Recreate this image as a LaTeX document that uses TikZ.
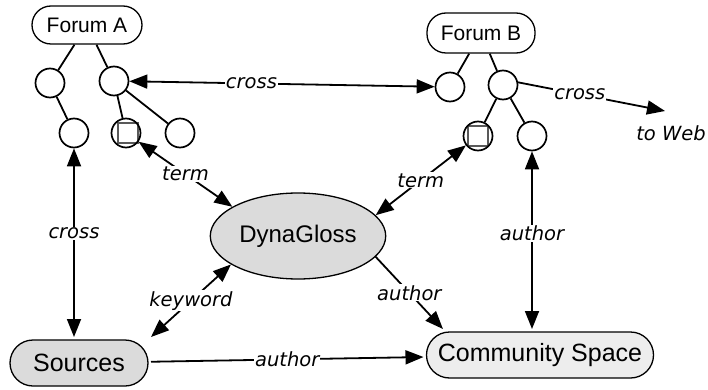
\documentclass[tikz,border=0pt]{standalone}
\usepackage{fontspec}
\setsansfont{Liberation Sans}
\newfontfamily\lblfont{DejaVu Sans}
\usetikzlibrary{arrows.meta,shapes.geometric}

\begin{document}
\begin{tikzpicture}[x=1pt, y=-1pt, >={Triangle[length=18pt,width=14pt]},
          leaf/.style={draw, circle, line width=1.7pt, minimum size=29pt, inner sep=0pt},
          forum/.style={draw, rounded corners=19pt, line width=1.3pt, inner sep=0pt, font=\sffamily\fontsize{21}{21}\selectfont},
          place/.style={draw, rounded corners=23pt, line width=1.3pt, inner sep=0pt, outer sep=3pt, minimum height=46pt, font=\sffamily\fontsize{25}{25}\selectfont},
          lbl/.style={fill=white, inner sep=1pt, font=\lblfont\itshape\fontsize{19.5}{19.5}\selectfont},
          link/.style={line width=1.8pt}]
          \useasboundingbox (0,0) rectangle (708,390);
          \node[forum, minimum width=110pt, minimum height=38pt] (fa) at (87,25) {Forum A};
          \node[forum, minimum width=108pt, minimum height=40pt] (fb) at (481,33) {Forum B};
          \node[leaf] (a1) at (50,83) {};
          \node[leaf] (a2) at (114,81) {};
          \node[leaf] (a11) at (74,133) {};
          \node[draw=black!65, line width=1.6pt, minimum size=20pt, inner sep=0pt] (a21sq) at (128,133) {};
          \node[leaf] (a21) at (126,133) {};
          \node[leaf] (a22) at (180,133) {};
          \node[leaf] (b1) at (450,87) {};
          \node[leaf] (b2) at (503,85) {};
          \node[draw=black!65, line width=1.6pt, minimum size=20pt, inner sep=0pt] (b21sq) at (478,136) {};
          \node[leaf] (b21) at (478,136) {};
          \node[leaf] (b22) at (532,136) {};
          \node[draw, ellipse, fill=black!14, line width=1.3pt, minimum width=147pt, minimum height=86pt, font=\sffamily\fontsize{24}{24}\selectfont] (dyna) at (298,236) {DynaGloss};
          \node[place, fill=black!14, minimum width=138pt] (src) at (79,363) {Sources};
          \node[place, fill=black!7, minimum width=227pt] (comm) at (540,355) {Community Space};
          \node[lbl, fill=none] (web) at (671,133) {to Web};
          \node[coordinate] (webtip) at (665,111) {};
          \draw[link] (fa) -- (a1);
          \draw[link] (fa) -- (a2);
          \draw[link] (a1) -- (a11);
          \draw[link] (a2) -- (a21);
          \draw[link] (a2) -- (a22);
          \draw[link] (fb) -- (b1);
          \draw[link] (fb) -- (b2);
          \draw[link] (b2) -- (b21);
          \draw[link] (b2) -- (b22);
          \draw[link, <->] (a2) -- node[lbl, pos=0.4] {cross} (b1);
          \draw[link, ->] (b2.10) -- node[lbl, pos=0.42] {cross} (webtip);
          \draw[link, <->] (a11) -- node[lbl, pos=0.45] {cross} (a11 |- src.north);
          \draw[link, <->] (a21) -- node[lbl] {term} (dyna.156);
          \draw[link, <->] (b21) -- node[lbl] {term} (dyna.15);
          \draw[link, <->] (dyna.203) -- node[lbl] {keyword} (src.north east);
          \draw[link, ->] (dyna.-15) -- node[lbl] {author} (comm.165);
          \draw[link, <->] (b22) -- node[lbl, pos=0.46] {author} (b22 |- comm.north);
          \draw[link, ->] (src) -- node[lbl] {author} (comm);
        \end{tikzpicture}
\end{document}
